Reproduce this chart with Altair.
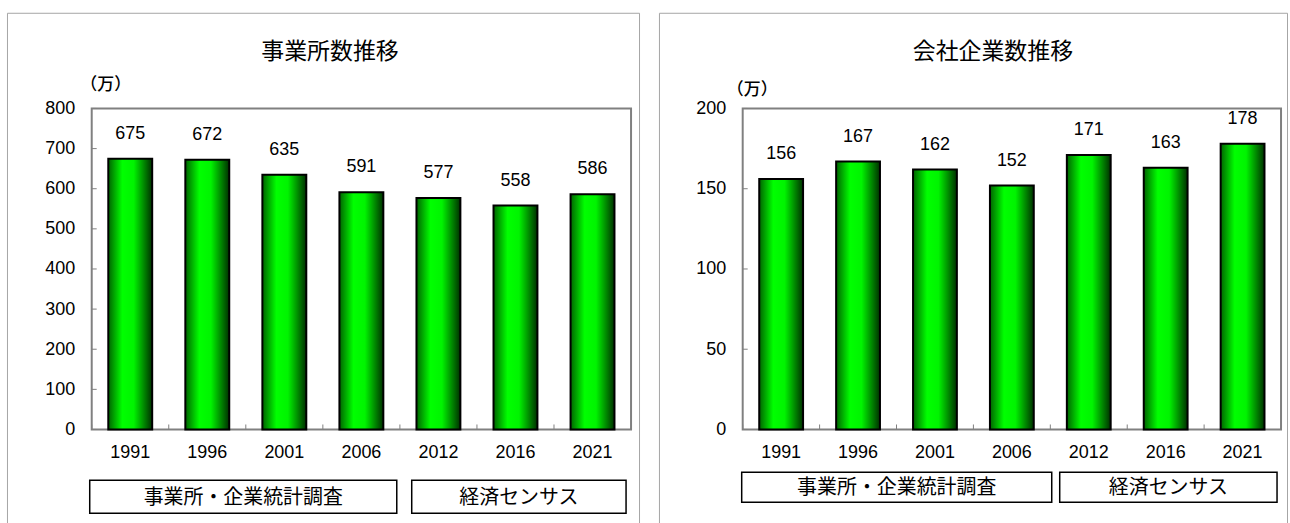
import altair as alt
import pandas as pd

# ---- data ----
years = ["1991", "1996", "2001", "2006", "2012", "2016", "2021"]
establishments = [675, 672, 635, 591, 577, 558, 586]   # 事業所数 (万)
companies = [156, 167, 162, 152, 171, 163, 178]        # 会社企業数 (万)
left_ticks = [0, 100, 200, 300, 400, 500, 600, 700, 800]
right_ticks = [0, 50, 100, 150, 200]
left_title = "事業所数推移"
right_title = "会社企業数推移"
unit_label = "（万）"
surveys = ["事業所・企業統計調査", "経済センサス"]

# ---- styling ----
NUM_FONT = "Liberation Sans, Arial, sans-serif"
JP_FONT = "Noto Sans CJK JP"
H = 322
FRAME = "#808080"
BORDER = "#a6a6a6"

bar_fill = alt.LinearGradient(
    gradient="linear",
    stops=[
        alt.GradientStop(color="#006400", offset=0),
        alt.GradientStop(color="#00ff00", offset=0.32),
        alt.GradientStop(color="#00f400", offset=0.58),
        alt.GradientStop(color="#003000", offset=1),
    ],
    x1=0, x2=1, y1=0, y2=0,
)


def dummy():
    return pd.DataFrame({"d": [0]})


def panel(values, ticks, ymax, title, title_x, unit_x, unit_y,
          boxes, box_y0, box_y1, border_left, border_right, width):
    df = pd.DataFrame({"year": years, "value": values})
    yscale = alt.Scale(domain=[0, ymax], nice=False, zero=True)
    xscale = alt.Scale(paddingInner=0, paddingOuter=0)
    xaxis = alt.Axis(title=None, labelAngle=0, ticks=False, domain=False,
                     labelPadding=23, labelBaseline="middle",
                     labelFont=NUM_FONT, labelFontSize=18, labelColor="black")
    yaxis = alt.Axis(values=ticks, title=None, domain=False, ticks=False,
                     grid=False, labelPadding=17, labelFont=NUM_FONT,
                     labelFontSize=18, labelColor="black")

    bars = alt.Chart(df).mark_bar(
        width=alt.RelativeBandSize(0.57), fill=bar_fill,
        stroke="black", strokeWidth=2,
    ).encode(
        x=alt.X("year:N", sort=years, scale=xscale, axis=xaxis),
        y=alt.Y("value:Q", scale=yscale, axis=yaxis),
    )
    vlabels = alt.Chart(df).mark_text(
        dy=-25, baseline="middle", font=NUM_FONT, fontSize=18, color="black"
    ).encode(
        x=alt.X("year:N", sort=years, scale=xscale, axis=xaxis),
        y=alt.Y("value:Q", scale=yscale, axis=yaxis),
        text="value:Q",
    )
    yt = alt.Chart(pd.DataFrame({"value": ticks})).mark_rule(color=FRAME, strokeWidth=1).encode(
        y=alt.Y("value:Q", scale=yscale, axis=yaxis), x=alt.value(0), x2=alt.value(5)
    )
    xt = alt.Chart(df).mark_rule(color=FRAME, strokeWidth=1).encode(
        x=alt.X("year:N", sort=years, scale=xscale, axis=xaxis, bandPosition=0),
        y=alt.value(H), y2=alt.value(H - 5),
    )
    ttl = alt.Chart(pd.DataFrame({"t": [title]})).mark_text(
        font=JP_FONT, fontSize=23, baseline="middle", align="center", color="black"
    ).encode(text="t:N", x=alt.value(title_x), y=alt.value(-57))
    unit = alt.Chart(pd.DataFrame({"t": [unit_label]})).mark_text(
        font=JP_FONT, fontSize=17, fontWeight=500, baseline="middle", align="center", color="black"
    ).encode(text="t:N", x=alt.value(unit_x), y=alt.value(unit_y))

    layers = [bars, vlabels, yt, xt, ttl, unit]
    for name, (bx0, bx1) in zip(surveys, boxes):
        layers.append(
            alt.Chart(dummy()).mark_rect(fill="white", stroke="black", strokeWidth=1.5).encode(
                x=alt.value(bx0), x2=alt.value(bx1), y=alt.value(box_y0), y2=alt.value(box_y1)
            )
        )
        layers.append(
            alt.Chart(pd.DataFrame({"t": [name]})).mark_text(
                font=JP_FONT, fontSize=20, baseline="middle", align="center", color="black"
            ).encode(text="t:N", x=alt.value((bx0 + bx1) / 2), y=alt.value((box_y0 + box_y1) / 2 + 1))
        )
    # outer panel border (open at the bottom)
    top = -95.5
    bottom = 416
    layers.append(alt.Chart(dummy()).mark_rule(color=BORDER, strokeWidth=1).encode(
        x=alt.value(border_left), y=alt.value(top), y2=alt.value(bottom)))
    layers.append(alt.Chart(dummy()).mark_rule(color=BORDER, strokeWidth=1).encode(
        x=alt.value(border_right), y=alt.value(top), y2=alt.value(bottom)))
    layers.append(alt.Chart(dummy()).mark_rule(color=BORDER, strokeWidth=1).encode(
        x=alt.value(border_left), x2=alt.value(border_right), y=alt.value(top)))

    return alt.layer(*layers).properties(width=width, height=H)


left = panel(establishments, left_ticks, 800, left_title,
             title_x=239, unit_x=14, unit_y=-24,
             boxes=[(-2, 306), (321, 536)], box_y0=373, box_y1=406,
             border_left=-84.5, border_right=549.5, width=541)
right = panel(companies, right_ticks, 200, right_title,
              title_x=251, unit_x=9.5, unit_y=-19,
              boxes=[(-1, 310), (318, 536)], box_y0=365, box_y1=395,
              border_left=-83.5, border_right=546.5, width=540)

chart = alt.hconcat(left, right, spacing=17).properties(
    padding={"left": 6, "top": 11, "right": 1, "bottom": 0},
    background="white",
).configure_view(stroke=FRAME, strokeWidth=2)

chart.save("out.html", embed_options={"renderer": "svg", "actions": False})
